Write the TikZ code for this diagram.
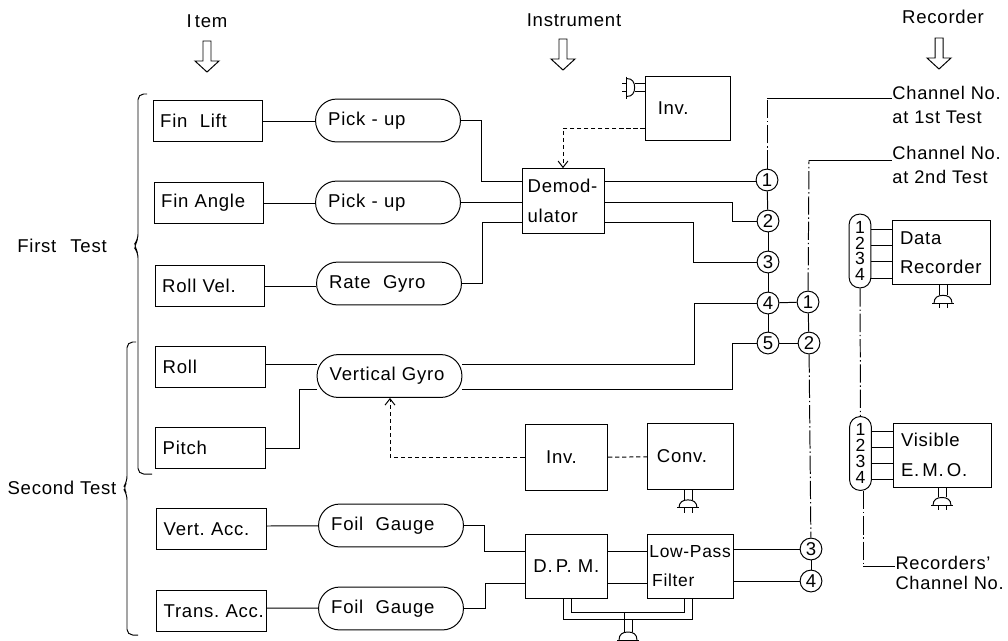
\documentclass[tikz,border=0pt]{standalone}
\usepackage{fontspec}
\setmainfont[LetterSpace=4]{Liberation Sans}
\usetikzlibrary{arrows.meta}

\begin{document}
\begin{tikzpicture}[x=0.025cm,y=-0.025cm,line width=0.7pt,
                    every node/.style={font=\fontsize{13.2}{21}\selectfont,inner sep=0pt},
                    itembox/.style={draw,rectangle,align=left,minimum height=29.2pt,text width=68pt,inner xsep=5pt},
                    pillbox/.style={draw,rectangle,rounded corners=15pt,align=left,minimum height=30.5pt,text width=85pt,inner xsep=9pt},
                    numpill/.style={draw,rectangle,rounded corners=7.5pt,align=center,minimum width=15.5pt,font=\fontsize{12.5}{11.3}\selectfont},
                    bigbox/.style={draw,rectangle,align=left},
                    circ/.style={draw,circle,fill=white,minimum size=15.5pt},
                    note/.style={align=left,anchor=west,font=\fontsize{13}{17.5}\selectfont},
                    sigline/.style={dash pattern=on 13pt off 2pt on 1pt off 2pt},
                    dashline/.style={dash pattern=on 3pt off 2pt},
                    barb/.style={-{Straight Barb[length=4.5pt,width=7pt]}},
                    hollow/.pic={\draw (-4,0) -- (4,0) -- (4,20) -- (12,20) -- (0,31) -- (-12,20) -- (-4,20) -- cycle;},
                    plug/.pic={\draw (-4,0) -- (-4,10) (4,0) -- (4,10);
                               \draw (-9,18) .. controls (-9,12) and (-5,10) .. (0,10) .. controls (5,10) and (9,12) .. (9,18);
                               \draw (-11,18) -- (11,18) (-4,18) -- (-4,23) (4,18) -- (4,23);}]
   \useasboundingbox (0,0) rectangle (1008,640);

   \node (hitem) at (207,21) {I\,tem};
   \node (hinst) at (574,20) {Instrument};
   \node (hrec)  at (943,17) {Recorder};
   \pic at (207,41) {hollow};
   \pic at (563,39) {hollow};
   \pic at (939,38) {hollow};

   \node (first)  at (62,246) {First\hspace{10pt}Test};
   \node (second) at (62,488) {Second Test};
   \draw[rounded corners=4pt] (147,94) -- (138,94) -- (138,240) -- (133,246) -- (138,252) -- (138,474) -- (152,474);
   \draw[rounded corners=4pt] (136,342) -- (127,342) -- (127,482) -- (123,488) -- (127,494) -- (127,635) -- (138,635);

   \node[itembox] (i1) at (208,121) {Fin\ \ Lift};
   \node[itembox] (i2) at (209,203) {Fin Angle};
   \node[itembox] (i3) at (210,286) {Roll Vel.};
   \node[itembox] (i4) at (210.5,367) {Roll};
   \node[itembox] (i5) at (210.5,448) {Pitch};
   \node[itembox] (i6) at (211.5,529) {\mbox{Vert.\ Acc.}};
   \node[itembox] (i7) at (211.5,611) {\mbox{Trans.\ Acc.}};

   \node[pillbox] (p1) at (388,120.5) {Pick - up};
   \node[pillbox] (p2) at (388,202.5) {Pick - up};
   \node[pillbox] (p3) at (389,283.5) {Rate\ \ Gyro};
   \node[pillbox] (p4) at (389.5,376) {Vertical Gyro};
   \node[pillbox] (p5) at (391,525.5) {Foil\ \ Gauge};
   \node[pillbox] (p6) at (391,608.5) {Foil\ \ Gauge};

   \node[bigbox,minimum height=45.5pt,text width=43pt,inner xsep=9pt] (inva) at (688,108) {Inv.};
   \node[bigbox,minimum height=46pt,text width=50.3pt,inner xsep=4pt] (demod) at (563,201) {\mbox{Demod-}\\ulator};
   \node[bigbox,minimum height=47.5pt,text width=28.3pt,inner xsep=15pt] (invb) at (566,457.5) {Inv.};
   \node[bigbox,minimum height=46.8pt,text width=47.7pt,inner xsep=6.4pt] (conv) at (690.5,456.5) {Conv.};
   \node[bigbox,minimum height=46pt,text width=46.3pt,inner xsep=6pt] (dpm) at (566,566.5) {\mbox{D.\,P.\ M.}};
   \node[bigbox,minimum height=45.5pt,text width=58.5pt,inner xsep=1pt,font=\fontsize{12.4}{21}\selectfont] (filt) at (690.5,566) {\mbox{Low-Pass}\\\hspace{2pt}Filter};
   \node[bigbox,minimum height=46pt,text width=58.3pt,inner xsep=5.7pt] (data) at (941,252.5) {Data\\Recorder};
   \node[bigbox,minimum height=45.5pt,text width=58.3pt,inner xsep=5.7pt] (emo) at (942,455) {Visible\\\mbox{E.\,M.\,O.}};

   \node[circ] (c1) at (767,180) {1};
   \node[circ] (c2) at (768,221) {2};
   \node[circ] (c3) at (768,262) {3};
   \node[circ] (c4) at (768,303) {4};
   \node[circ] (c5) at (768,343) {5};
   \node[circ] (r1) at (808,302) {1};
   \node[circ] (r2) at (809,343) {2};
   \node[circ] (r3) at (811,549) {3};
   \node[circ] (r4) at (811,581) {4};

   \node[numpill,minimum height=52.5pt] (n1) at (860,251) {1\\2\\3\\4};
   \node[numpill,minimum height=52.5pt] (n2) at (860.5,453.5) {1\\2\\3\\4};

   \node[note] (ch1) at (892,105) {Channel No.\\at 1st Test};
   \node[note] (ch2) at (892,165) {Channel No.\\at 2nd Test};
   \node[note,font=\fontsize{13}{14.5}\selectfont] (rch) at (895,573) {Recorders'\\Channel No.};

   \coordinate (t1) at (767,98);
   \coordinate (t2) at (809,160);
   \coordinate (t3) at (863,566);

   \draw (i1) -- (p1.west |- i1);
   \draw (i2) -- (p2.west |- i2);
   \draw (i3) -- (p3.west |- i3);
   \draw (i4.east |- 0,364) -- (p4.west |- 0,364);
   \draw (i5) -- (299,448) -- (299,389) -- (p4.west |- 0,389);
   \draw (i6.east |- 0,526) -- (p5);
   \draw (i7.east |- 0,608) -- (p6);

   \draw (p1) -- (481,120.5) -- (481,181) -- (demod.west |- 0,181);
   \draw (p2) -- (demod.west |- p2);
   \draw (p3) -- (482,283.5) -- (482,222) -- (demod.west |- 0,222);
   \draw (demod.east |- 0,181) -- (c1.west |- 0,181);
   \draw (demod.east |- 0,202) -- (732,202) -- (732,221) -- (c2);
   \draw (demod.east |- 0,222) -- (693,222) -- (693,262) -- (c3);
   \draw (p4.east |- 0,364) -- (694,364) -- (694,303) -- (c4);
   \draw (p4.east |- 0,389) -- (732,389) -- (732,343) -- (c5);
   \draw (c4) -- (r1);
   \draw (c5) -- (r2);

   \draw (p5) -- (484,525.5) -- (484,551) -- (dpm.west |- 0,551);
   \draw (p6) -- (485,608.5) -- (485,583) -- (dpm.west |- 0,583);
   \draw (dpm.east |- 0,551) -- (filt.west |- 0,551);
   \draw (dpm.east |- 0,583) -- (filt.west |- 0,583);
   \draw (filt.east |- r3) -- (r3);
   \draw (filt.east |- r4) -- (r4);

   \draw[dashline,barb] (inva.west |- 0,128) -| (demod.north);
   \draw[dashline] (conv) -- (invb);
   \draw[dashline,barb] (invb.west |- 0,457) -| (p4.south -| 390,0);

   \draw[sigline] (c1) -- (c2);
   \draw[sigline] (c2) -- (c3);
   \draw[sigline] (c3) -- (c4);
   \draw[sigline] (c4) -- (c5);
   \draw[sigline] (c1) -- (t1);
   \draw (t1) -- (ch1.west |- t1);
   \draw[sigline] (r1) -- (t2);
   \draw (t2) -- (ch2.west |- t2);
   \draw[sigline] (r1) -- (r2);
   \draw[sigline] (r2) -- (r3);
   \draw[sigline] (r3) -- (r4);
   \draw[sigline] (n1) -- (n2);
   \draw[sigline] (n2.south -| t3) -- (t3);
   \draw (t3) -- (rch.west |- t3);

   \foreach \y in {229,245,261,278} \draw (n1.east |- 0,\y) -- (data.west |- 0,\y);
   \foreach \y in {431,447,463,479} \draw (n2.east |- 0,\y) -- (emo.west |- 0,\y);

   \pic[rotate=-90] at (inva.west |- 0,87.5) {plug};
   \pic at (conv.south -| 688,0) {plug};
   \pic at (data.south -| 943,0) {plug};
   \pic at (emo.south -| 942,0) {plug};
   \draw (dpm.south -| 563,0) -- (563,619) -- (692,619) -- (filt.south -| 692,0);
   \draw (dpm.south -| 571,0) -- (571,612) -- (684,612) -- (filt.south -| 684,0);
   \draw (624,612) -- (624,622) (632,619) -- (632,622);
   \pic at (628,622) {plug};
\end{tikzpicture}
\end{document}
